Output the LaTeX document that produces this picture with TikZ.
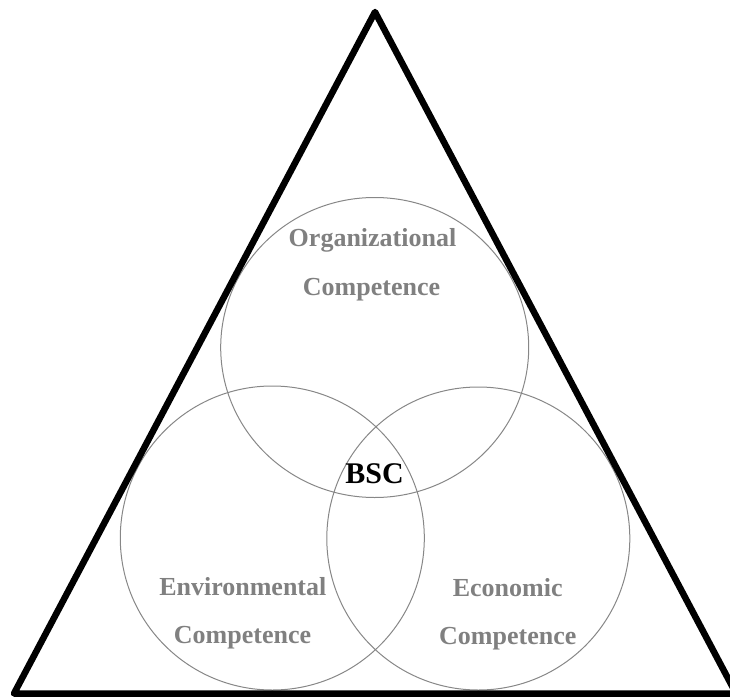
\documentclass[tikz,border=0pt]{standalone}
\usepackage{fontspec}
\setmainfont{Liberation Serif}
\definecolor{ringgray}{RGB}{135,135,135}
\definecolor{labelgray}{RGB}{128,128,128}
\tikzset{
  ring/.style={draw=ringgray, line width=1pt},
  frame/.style={draw=black, line width=6.5pt, line join=round},
  lbl/.style={text=labelgray, font=\fontsize{26}{30}\selectfont\bfseries, anchor=base, inner sep=0pt},
  core/.style={text=black, font=\fontsize{30}{34}\selectfont\bfseries, anchor=base, inner sep=0pt}
}
\begin{document}
\begin{tikzpicture}[x=1pt,y=-1pt]
\useasboundingbox (0,0) rectangle (730,698);
% circles
\draw[ring] (374.7,347.5) ellipse [x radius=154, y radius=150];
\draw[ring] (272.3,538) circle [radius=152];
\draw[ring] (478.3,538.5) circle [radius=151.5];
% triangle
\coordinate (apex) at (375,12);
\coordinate (bl) at (14,693.5);
\coordinate (br) at (736,693.5);
\draw[frame] (apex) -- (bl) -- (br) -- cycle;
% labels
\node[lbl] (org1) at (372.5,246) {Organizational};
\node[lbl] (org2) at (371.5,295) {Competence};
\node[lbl] (env1) at (242.8,595) {Environmental};
\node[lbl] (env2) at (242.5,643.5) {Competence};
\node[lbl] (eco1) at (507.7,596) {Economic};
\node[lbl] (eco2) at (507.8,644) {Competence};
\node[core] (bsc) at (374.5,483) {BSC};
\end{tikzpicture}
\end{document}
